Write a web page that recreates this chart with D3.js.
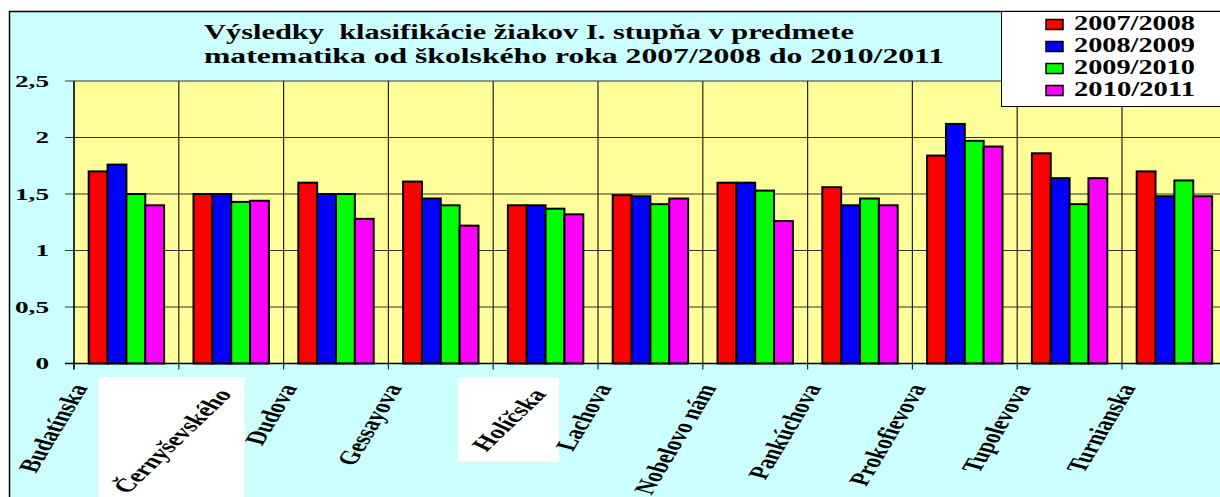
<!DOCTYPE html>
<html>
<head>
<meta charset="utf-8">
<script src="https://cdn.jsdelivr.net/npm/d3@7"></script>
<style>
  body { margin: 0; background: #fff; overflow: hidden; }
  text { font-family: "Liberation Serif", "Times New Roman", serif; font-weight: bold; fill: #000; }
</style>
</head>
<body>
<svg id="chart" width="1220" height="497"></svg>
<script>
// data
var categories = ["Budatínska", "Černyševského", "Dudova", "Gessayova", "Holíčska", "Lachova",
                  "Nobelovo nám", "Pankúchova", "Prokofievova", "Tupolevova", "Turnianska"];
var seasons = ["2007/2008", "2008/2009", "2009/2010", "2010/2011"];
var v0708 = [1.70, 1.50, 1.60, 1.61, 1.40, 1.49, 1.60, 1.56, 1.84, 1.86, 1.70];
var v0809 = [1.76, 1.50, 1.50, 1.46, 1.40, 1.48, 1.60, 1.40, 2.12, 1.64, 1.48];
var v0910 = [1.50, 1.43, 1.50, 1.40, 1.37, 1.41, 1.53, 1.46, 1.97, 1.41, 1.62];
var v1011 = [1.40, 1.44, 1.28, 1.22, 1.32, 1.46, 1.26, 1.40, 1.92, 1.64, 1.48];
var yTicks = [0, 0.5, 1, 1.5, 2, 2.5];
var titleLines = ["Výsledky  klasifikácie žiakov I. stupňa v predmete",
                  "matematika od školského roka 2007/2008 do 2010/2011"];
var whiteLabels = ["Černyševského", "Holíčska"];

var series = [v0708, v0809, v0910, v1011];
var colors = ["#FF0000", "#0000FF", "#00FF00", "#FF00FF"];

// sizes
var margin = {top: 81, left: 74};
var bandW = 104.8;
var width = bandW * categories.length,
    height = 282.5;

var svg = d3.select("#chart");

// stretch text sideways, the original is drawn wide
function stretch(sel, k) {
  sel.each(function() {
    var w = this.getComputedTextLength();
    this.setAttribute("textLength", w * k);
    this.setAttribute("lengthAdjust", "spacingAndGlyphs");
  });
}

// outer chart frame
svg.append("rect")
    .attr("x", 9.5).attr("y", 11.5)
    .attr("width", 1240).attr("height", 500)
    .attr("fill", "#CCFFFF")
    .attr("stroke", "#000")
    .attr("stroke-width", 1.5);

var boxLayer = svg.append("g");

var g = svg.append("g").attr("transform", "translate(" + margin.left + "," + margin.top + ")");

var x = d3.scaleBand().domain(categories).range([0, width]).padding(0);
var x1 = d3.scaleBand().domain(d3.range(seasons.length)).range([0, x.bandwidth()])
    .paddingInner(0).paddingOuter(0.78);
var y = d3.scaleLinear().domain([0, 2.5]).range([height, 0]);

var fmt = d3.formatLocale({decimal: ",", thousands: " ", grouping: [3], currency: ["", ""]}).format("~g");

// plot background
g.append("rect")
    .attr("width", width).attr("height", height)
    .attr("fill", "#FFFF99");

// horizontal grid + y ticks
g.selectAll(".hgrid")
    .data(yTicks.filter(function(d) { return d > 0; }))
  .enter().append("line")
    .attr("class", "hgrid")
    .attr("x1", -9).attr("x2", width)
    .attr("y1", function(d) { return y(d); })
    .attr("y2", function(d) { return y(d); })
    .attr("stroke", "#333")
    .attr("stroke-width", 1.2);

// vertical grid at category borders, with ticks below
g.selectAll(".vgrid")
    .data(categories)
  .enter().append("line")
    .attr("class", "vgrid")
    .attr("x1", function(d) { return x(d); })
    .attr("x2", function(d) { return x(d); })
    .attr("y1", 0).attr("y2", height + 6)
    .attr("stroke", "#222")
    .attr("stroke-width", 1.2);

// bars
var groups = g.selectAll(".grp")
    .data(categories)
  .enter().append("g")
    .attr("class", "grp")
    .attr("transform", function(d) { return "translate(" + x(d) + ",0)"; });

groups.selectAll("rect")
    .data(function(d, i) { return series.map(function(s, j) { return {k: j, v: s[i]}; }); })
  .enter().append("rect")
    .attr("x", function(d) { return x1(d.k); })
    .attr("y", function(d) { return y(d.v); })
    .attr("width", x1.bandwidth())
    .attr("height", function(d) { return height - y(d.v); })
    .attr("fill", function(d) { return colors[d.k]; })
    .attr("stroke", "#000")
    .attr("stroke-width", 2);

// axis lines
g.append("line")
    .attr("x1", -9).attr("x2", width)
    .attr("y1", height).attr("y2", height)
    .attr("stroke", "#000").attr("stroke-width", 1.5);
g.append("line")
    .attr("x1", 0).attr("x2", 0)
    .attr("y1", 0).attr("y2", height + 6)
    .attr("stroke", "#000").attr("stroke-width", 1.2);

// y tick labels
g.selectAll(".ylab")
    .data(yTicks)
  .enter().append("text")
    .attr("class", "ylab")
    .attr("x", -25)
    .attr("y", function(d) { return y(d); })
    .attr("dy", "0.35em")
    .attr("text-anchor", "end")
    .style("font-size", "17px")
    .text(function(d) { return fmt(d); })
    .call(stretch, 1.6);

// x labels, rotated and drawn wide like the original
var labels = g.selectAll(".xlab")
    .data(categories)
  .enter().append("text")
    .attr("class", "xlab")
    .attr("text-anchor", "end")
    .style("font-size", "19px")
    .attr("transform", function(d) {
      var white = whiteLabels.indexOf(d) >= 0;
      var shift = white ? 54 : 14;
      var ang = white ? -55 : -68;
      return "translate(" + (x(d) + shift) + "," + (height + (white ? 31 : 24)) + ") scale(1.5,1) rotate(" + ang + ")";
    })
    .text(function(d) { return d; });

// white boxes behind the pasted-in labels
labels.filter(function(d) { return whiteLabels.indexOf(d) >= 0; })
  .each(function() {
    var b = this.getBoundingClientRect();
    var pad = 7;
    boxLayer.append("rect")
        .attr("x", b.left - pad).attr("y", b.top - pad)
        .attr("width", b.width + 2 * pad).attr("height", b.height + 2 * pad)
        .attr("fill", "#fff");
  });

// title
svg.selectAll(".title")
    .data(titleLines)
  .enter().append("text")
    .attr("class", "title")
    .attr("x", 204)
    .attr("y", function(d, i) { return 39 + i * 24; })
    .style("font-size", "21px")
    .style("white-space", "pre")
    .attr("textLength", function(d, i) { return i == 0 ? 650 : 740; })
    .attr("lengthAdjust", "spacingAndGlyphs")
    .text(function(d) { return d; });

// legend
var legend = svg.append("g");
legend.append("rect")
    .attr("x", 1001.5).attr("y", 11.5)
    .attr("width", 240).attr("height", 95)
    .attr("fill", "#fff")
    .attr("stroke", "#000")
    .attr("stroke-width", 1);

var items = legend.selectAll(".item")
    .data(seasons)
  .enter().append("g")
    .attr("class", "item")
    .attr("transform", function(d, i) { return "translate(1046," + (24.5 + i * 22) + ")"; });

items.append("rect")
    .attr("x", 0).attr("y", -5)
    .attr("width", 17).attr("height", 10)
    .attr("fill", function(d, i) { return colors[i]; })
    .attr("stroke", "#000")
    .attr("stroke-width", 1.5);

items.append("text")
    .attr("x", 28)
    .attr("y", 5.5)
    .style("font-size", "20px")
    .attr("textLength", 121)
    .attr("lengthAdjust", "spacingAndGlyphs")
    .text(function(d) { return d; });
</script>
</body>
</html>
